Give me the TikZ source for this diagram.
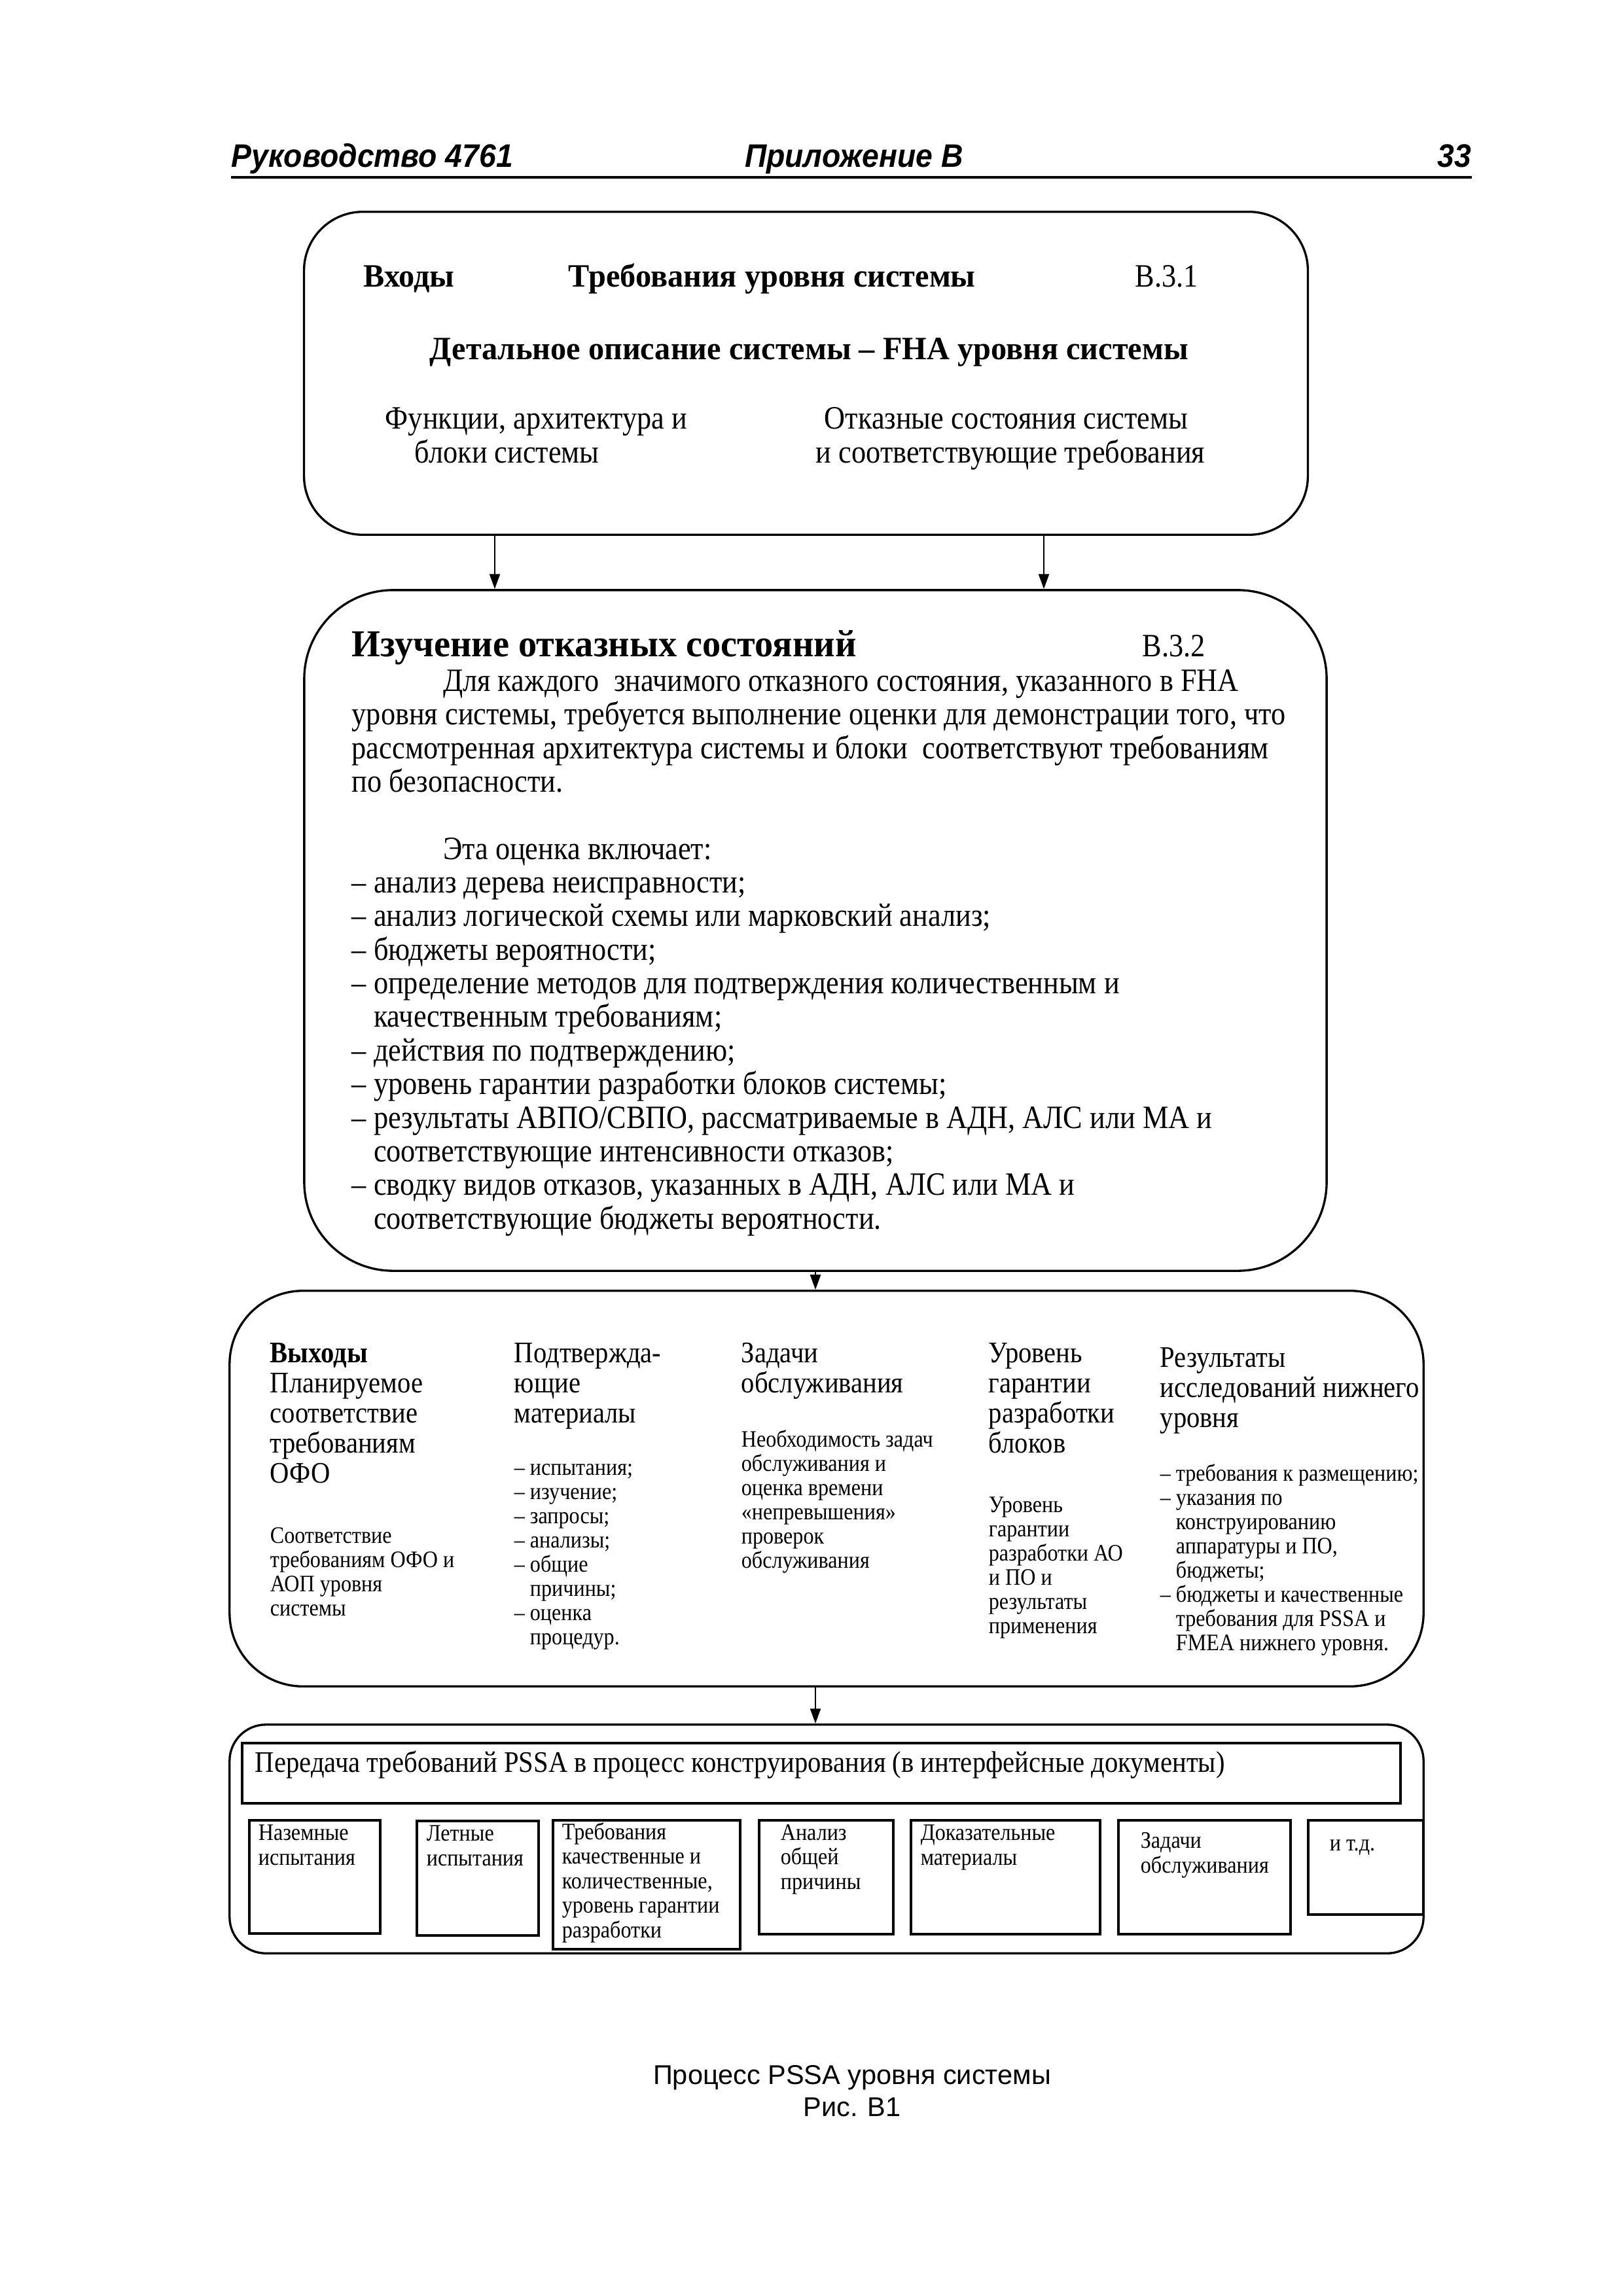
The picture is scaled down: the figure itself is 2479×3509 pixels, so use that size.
\documentclass[tikz,border=0pt]{standalone}
\usepackage{fontspec}
\setmainfont{Liberation Serif}
\setsansfont{Liberation Sans}
\newfontfamily\condserif{Liberation Serif}[FakeStretch=0.89]
\newfontfamily\boldserif{Liberation Serif}[FakeStretch=0.97]
\newfontfamily\headsans{Liberation Sans}[FakeStretch=0.93]
\usetikzlibrary{arrows.meta, positioning, calc}

\begin{document}
\begin{tikzpicture}[
    x=0.0084712cm, y=-0.0084712cm,
    >={Triangle[length=5.5pt, width=3.8pt]},
    blockbox/.style={draw, line width=0.8pt, inner sep=0pt},
    cellbox/.style={draw, line width=0.9pt, inner sep=0pt},
    arw/.style={->, line width=0.7pt},
    txt/.style={inner sep=0pt, anchor=base west, align=left},
    bodytext/.style={txt, font=\condserif\fontsize{12}{12.37}\selectfont},
    boldtext/.style={txt, font=\boldserif\fontsize{12}{12.37}\selectfont\bfseries},
    headtext/.style={txt, font=\condserif\fontsize{11}{11.05}\selectfont},
    smalltext/.style={txt, font=\condserif\fontsize{8.7}{8.9}\selectfont},
    celltext/.style={txt, font=\condserif\fontsize{8.7}{9.0}\selectfont},
    pagehead/.style={inner sep=0pt, font=\headsans\bfseries\itshape\fontsize{12}{14}\selectfont},
]
\useasboundingbox (0,0) rectangle (2479,3509);

% === Page head ===
\node[pagehead, anchor=base west] (manual) at (353,255) {Руководство 4761};
\node[pagehead, anchor=base] (appendix) at (1305,255) {Приложение В};
\node[pagehead, anchor=base east] (pageno) at (2249,255) {33};
\draw[line width=1.2pt] (353,271) -- (2249,271);

% === Inputs (B.3.1) ===
% (multi-line nodes sit on the baseline of their last line)
\node[blockbox, rounded corners=0.76cm, minimum width=12.99cm, minimum height=4.18cm]
    (inputs) at (1231.5,570.5) {};
\node[boldtext] (inlabel) at (555,438) {Входы};
\node[boldtext] (sysreq) at (868,438) {Требования уровня системы};
\node[bodytext] (ref1) at (1734,438) {В.3.1};
\node[boldtext] (sysdesc) at (656,549) {Детальное описание системы – FHA уровня системы};
\node[bodytext] (funcs) at (588,707) {Функции, архитектура и\\\hspace*{0.38cm}блоки системы};
\node[bodytext] (fconds) at (1246,707) {\hspace*{0.11cm}Отказные состояния системы\\и соответствующие требования};

% === Failure condition study (B.3.2) ===
\node[blockbox, rounded corners=1.15cm, minimum width=13.23cm, minimum height=8.81cm]
    (study) at (1246,1422) {};
\node[txt, font=\boldserif\fontsize{14}{16}\selectfont\bfseries] (studytitle) at (537,1003) {Изучение отказных состояний};
\node[bodytext] (ref2) at (1745,1003) {В.3.2};
\node[bodytext] (studybody) at (537,1878) {%
    \hspace*{1.18cm}Для каждого\ \ значимого отказного состояния, указанного в FHA\\
    уровня системы, требуется выполнение оценки для демонстрации того, что\\
    рассмотренная архитектура системы и блоки\ \ соответствуют требованиям\\
    по безопасности.\\
    \mbox{}\\
    \hspace*{1.18cm}Эта оценка включает:\\
    – анализ дерева неисправности;\\
    – анализ логической схемы или марковский анализ;\\
    – бюджеты вероятности;\\
    – определение методов для подтверждения количественным и\\
    \hphantom{– }качественным требованиям;\\
    – действия по подтверждению;\\
    – уровень гарантии разработки блоков системы;\\
    – результаты АВПО/СВПО, рассматриваемые в АДН, АЛС или МА и\\
    \hphantom{– }соответствующие интенсивности отказов;\\
    – сводку видов отказов, указанных в АДН, АЛС или МА и\\
    \hphantom{– }соответствующие бюджеты вероятности.};

\draw[arw] ($(inputs.south)+(-475.5,0)$) coordinate (a1) -- (a1 |- study.north);
\draw[arw] ($(inputs.south)+(363.5,0)$) coordinate (a2) -- (a2 |- study.north);

% === Outputs ===
\node[blockbox, rounded corners=0.95cm, minimum width=15.45cm, minimum height=5.12cm]
    (outputs) at (1263,2275) {};
\node[headtext] (outplan) at (412,2266) {\textbf{Выходы}\\Планируемое\\соответствие\\требованиям\\ОФО};
\node[smalltext] (outcomp) at (412,2469) {Соответствие\\требованиям ОФО и\\АОП уровня\\системы};
\node[headtext] (evhead) at (785,2174) {Подтвержда-\\ющие\\материалы};
\node[smalltext] (evlist) at (785,2513) {– испытания;\\– изучение;\\– запросы;\\– анализы;\\– общие\\\hphantom{– }причины;\\– оценка\\\hphantom{– }процедур.};
\node[headtext] (mthead) at (1132,2128) {Задачи\\обслуживания};
\node[smalltext] (mtbody) at (1132,2396) {Необходимость задач\\обслуживания и\\оценка времени\\«непревышения»\\проверок\\обслуживания};
\node[headtext] (dalhead) at (1510,2220) {Уровень\\гарантии\\разработки\\блоков};
\node[smalltext] (dalbody) at (1510,2496) {Уровень\\гарантии\\разработки АО\\и ПО и\\результаты\\применения};
\node[headtext] (lowhead) at (1772,2181) {Результаты\\исследований нижнего\\уровня};
\node[smalltext] (lowlist) at (1772,2522) {– требования к размещению;\\– указания по\\\hphantom{– }конструированию\\\hphantom{– }аппаратуры и ПО,\\\hphantom{– }бюджеты;\\– бюджеты и качественные\\\hphantom{– }требования для PSSA и\\\hphantom{– }FMEA нижнего уровня.};

\draw[arw] (study.south) -- (study.south |- outputs.north);

% === Transfer to design ===
\node[blockbox, rounded corners=0.47cm, minimum width=15.45cm, minimum height=2.96cm]
    (transfer) at (1263,2810.5) {};
\node[cellbox, minimum width=14.99cm, minimum height=0.78cm] (pssa) at (1255,2710) {};
\node[txt, font=\condserif\fontsize{11}{12}\selectfont] (pssatext) at (389,2708)
    {Передача требований PSSA в процесс конструирования (в интерфейсные документы)};

\draw[arw] (outputs.south -| study.south) -- (transfer.north -| study.south);

% cells
\node[cellbox, minimum width=1.69cm, minimum height=1.47cm] (ground) at (481,2868.5) {};
\node[cellbox, minimum width=1.58cm, minimum height=1.48cm] (flight) at (730,2870.5) {};
\node[cellbox, minimum width=2.42cm, minimum height=1.67cm] (reqs) at (988,2880.5) {};
\node[cellbox, minimum width=1.74cm, minimum height=1.47cm] (ccause) at (1262.5,2869) {};
\node[cellbox, minimum width=2.45cm, minimum height=1.47cm] (evidence) at (1536.5,2869) {};
\node[cellbox, minimum width=2.23cm, minimum height=1.47cm] (maint) at (1840.5,2869) {};
\node[cellbox, minimum width=1.49cm, minimum height=1.22cm] (etc) at (2087,2854) {};

\node[celltext] (groundtext) at (394,2850) {Наземные\\испытания};
\node[celltext] (flighttext) at (651,2851) {Летные\\испытания};
\node[celltext] (reqstext) at (858,2961) {Требования\\качественные и\\количественные,\\уровень гарантии\\разработки};
\node[celltext] (ccausetext) at (1192,2887) {Анализ\\общей\\причины};
\node[celltext] (evidencetext) at (1406,2850) {Доказательные\\материалы};
\node[celltext] (mainttext) at (1742,2862) {Задачи\\обслуживания};
\node[celltext] (etctext) at (2031,2828) {и т.д.};

% === Caption ===
\node[anchor=base, align=center, inner sep=0pt, font=\sffamily\fontsize{10}{11.8}\selectfont]
    (caption) at (1302,3234) {Процесс PSSA уровня системы\\Рис. В1};

\end{tikzpicture}
\end{document}
